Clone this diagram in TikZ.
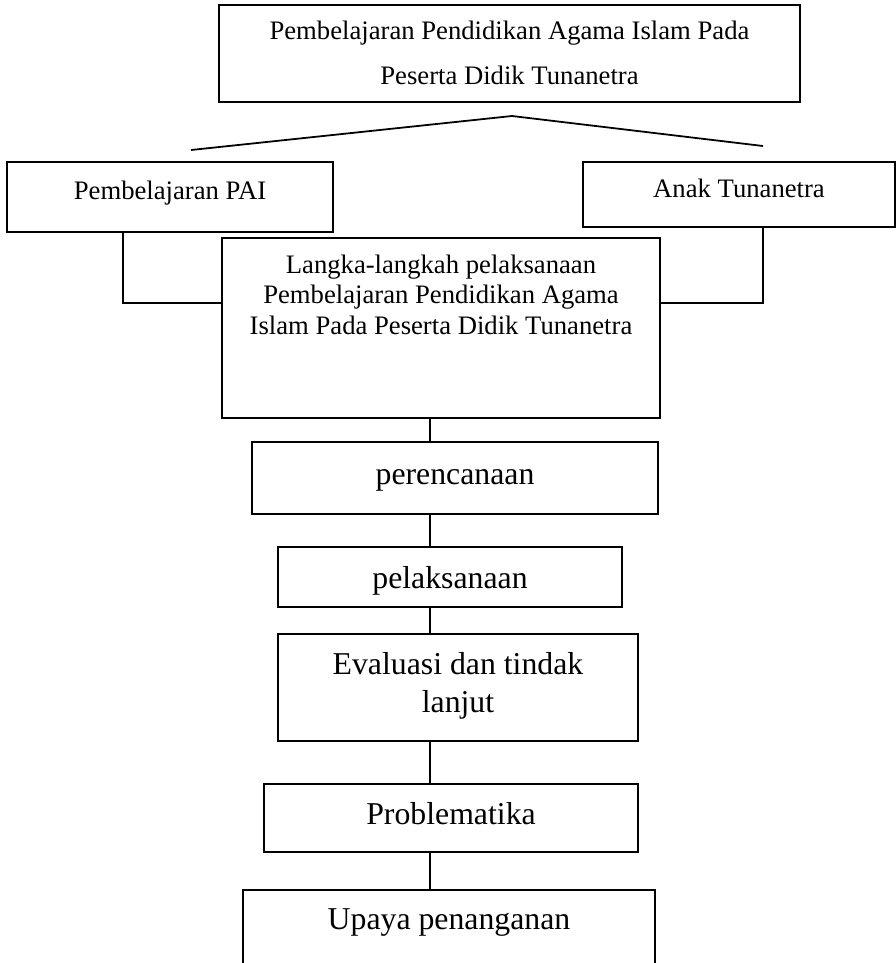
\documentclass[tikz,border=0pt]{standalone}
\usepackage{fontspec}
\setmainfont{Liberation Serif}
\usetikzlibrary{calc}
\newcommand{\pxu}{0.45pt}
\tikzset{
  box/.style={draw, line width=1pt, inner sep=0pt},
  small/.style={font=\fontsize{12}{13.7}\selectfont, inner sep=0pt, anchor=base, align=center},
  big/.style={font=\fontsize{14.3}{17.1}\selectfont, inner sep=0pt, anchor=base, align=center},
  link/.style={line width=0.8pt}
}

\begin{document}
\begin{tikzpicture}[x=\pxu,y=-\pxu]
        \useasboundingbox (0,0) rectangle (896,963);
        \clip (0,0) rectangle (896,963);
        % boxes
        \node[box, minimum width=581*\pxu, minimum height=97*\pxu] (top) at (509.5,53.5) {};
        \node[box, minimum width=326*\pxu, minimum height=70*\pxu] (pai) at (170,197) {};
        \node[box, minimum width=312*\pxu, minimum height=65*\pxu] (anak) at (739,194.5) {};
        \node[box, minimum width=438*\pxu, minimum height=180*\pxu] (langkah) at (441,328) {};
        \node[box, minimum width=406*\pxu, minimum height=72*\pxu] (rencana) at (455,478) {};
        \node[box, minimum width=344*\pxu, minimum height=60*\pxu] (laksana) at (450,577) {};
        \node[box, minimum width=360*\pxu, minimum height=107*\pxu] (evaluasi) at (458,687.5) {};
        \node[box, minimum width=374*\pxu, minimum height=68*\pxu] (problem) at (451,818) {};
        \node[box, minimum width=412*\pxu, minimum height=110*\pxu] (upaya) at (449,945) {};
        % texts (base of a multi-line text is its last line)
        \node[small, font=\fontsize{12}{20.25}\selectfont] (toptext) at (509.5,84)
            {Pembelajaran Pendidikan Agama Islam Pada\\Peserta Didik Tunanetra};
        \node[small] (paitext) at (170,199) {Pembelajaran PAI};
        \node[small] (anaktext) at (739,197) {Anak Tunanetra};
        \node[small] (langkahtext) at (441,334)
            {Langka-langkah pelaksanaan\\Pembelajaran Pendidikan Agama\\Islam Pada Peserta Didik Tunanetra};
        \node[big] (rencanatext) at (455,484) {perencanaan};
        \node[big] (laksanatext) at (450,588) {pelaksanaan};
        \node[big] (evaluasitext) at (458,712) {Evaluasi dan tindak\\lanjut};
        \node[big] (problemtext) at (451,824) {Problematika};
        \node[big] (upayatext) at (449,929) {Upaya penanganan};
        % connectors
        \coordinate (apex) at (512,116);
        \coordinate (endL) at (191,150);
        \coordinate (endR) at (763,146);
        \draw[link] (endL) -- (apex) -- (endR);
        \coordinate (jL) at (123,303);
        \coordinate (jR) at (763,303);
        \draw[link] (pai.south -| jL) -- (jL) -- (jL -| langkah.west);
        \draw[link] (anak.south -| jR) -- (jR) -- (jR -| langkah.east);
        \coordinate (spine) at (430,0);
        \draw[link] (langkah.south -| spine) -- (rencana.north -| spine);
        \draw[link] (rencana.south -| spine) -- (laksana.north -| spine);
        \draw[link] (laksana.south -| spine) -- (evaluasi.north -| spine);
        \draw[link] (evaluasi.south -| spine) -- (problem.north -| spine);
        \draw[link] (problem.south -| spine) -- (upaya.north -| spine);
    \end{tikzpicture}
\end{document}
